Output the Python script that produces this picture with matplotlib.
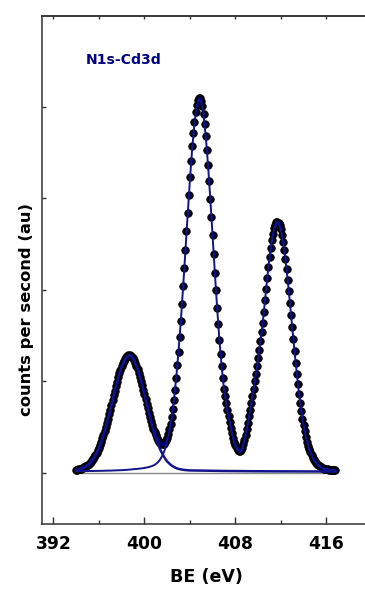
import numpy as np
import matplotlib
matplotlib.use("Agg")
import matplotlib.pyplot as plt
from matplotlib.ticker import MultipleLocator, NullFormatter

plt.rcParams["font.family"] = ["DejaVu Sans"]
plt.rcParams["font.weight"] = "bold"

# ---------------- data ----------------
# measured points, binding energy 394.0 ... 416.8 eV in 0.1 eV steps
be_start = 394.0
be_step = 0.1
counts = [
    0.036, 0.038, 0.041, 0.045, 0.048, 0.053, 0.058, 0.064, 0.071, 0.079,   # 394
    0.088, 0.099, 0.111, 0.125, 0.140, 0.158, 0.176, 0.199, 0.222, 0.248,   # 395
    0.277, 0.307, 0.342, 0.378, 0.417, 0.458, 0.501, 0.547, 0.593, 0.642,   # 396
    0.692, 0.743, 0.795, 0.847, 0.898, 0.948, 0.997, 1.043, 1.087, 1.127,   # 397
    1.164, 1.196, 1.224, 1.247, 1.265, 1.277, 1.284, 1.284, 1.279, 1.268,   # 398
    1.252, 1.230, 1.203, 1.172, 1.136, 1.096, 1.053, 1.007, 0.959, 0.909,   # 399
    0.859, 0.808, 0.757, 0.706, 0.656, 0.608, 0.563, 0.520, 0.479, 0.443,   # 400
    0.410, 0.382, 0.358, 0.339, 0.326, 0.318, 0.317, 0.321, 0.336, 0.356,   # 401
    0.386, 0.427, 0.478, 0.540, 0.614, 0.701, 0.799, 0.910, 1.036, 1.175,   # 402
    1.326, 1.489, 1.665, 1.848, 2.040, 2.239, 2.439, 2.643, 2.842, 3.038,   # 403
    3.227, 3.402, 3.566, 3.711, 3.837, 3.939, 4.017, 4.069, 4.094, 4.090,   # 404
    4.060, 4.002, 3.918, 3.812, 3.682, 3.532, 3.365, 3.185, 2.995, 2.797,   # 405
    2.594, 2.391, 2.188, 1.994, 1.804, 1.623, 1.453, 1.303, 1.163, 1.033,   # 406
    0.922, 0.842, 0.765, 0.692, 0.622, 0.556, 0.494, 0.437, 0.385, 0.343,   # 407
    0.305, 0.274, 0.252, 0.240, 0.238, 0.250, 0.275, 0.312, 0.360, 0.418,   # 408
    0.482, 0.550, 0.620, 0.692, 0.766, 0.842, 0.920, 1.000, 1.083, 1.168,   # 409
    1.255, 1.345, 1.440, 1.538, 1.640, 1.754, 1.884, 2.010, 2.134, 2.251,   # 410
    2.358, 2.456, 2.542, 2.614, 2.671, 2.712, 2.736, 2.743, 2.732, 2.705,   # 411
    2.660, 2.600, 2.525, 2.437, 2.337, 2.227, 2.108, 1.983, 1.854, 1.722,   # 412
    1.590, 1.460, 1.330, 1.206, 1.086, 0.972, 0.865, 0.766, 0.672, 0.587,   # 413
    0.521, 0.454, 0.395, 0.343, 0.297, 0.259, 0.224, 0.195, 0.167, 0.145,   # 414
    0.126, 0.109, 0.095, 0.083, 0.073, 0.065, 0.058, 0.053, 0.048, 0.044,   # 415
    0.041, 0.039, 0.037, 0.035, 0.034, 0.033, 0.032, 0.032, 0.032,          # 416
]

# fitted N1s component (0.2 eV grid 394.0-404.0, then flat tail points)
fit_step = 0.2
n1s_fit = [
    0.036, 0.041, 0.048, 0.058, 0.071, 0.088, 0.111, 0.140, 0.176, 0.222,
    0.277, 0.342, 0.417, 0.501, 0.593, 0.692, 0.795, 0.898, 0.997, 1.087,
    1.164, 1.224, 1.265, 1.284, 1.279, 1.252, 1.203, 1.136, 1.053, 0.959,
    0.858, 0.754, 0.651, 0.554, 0.464, 0.384, 0.314, 0.254, 0.204, 0.162,
    0.127, 0.102, 0.081, 0.066, 0.053, 0.045, 0.040, 0.035, 0.032, 0.030,
    0.028,
]
n1s_tail_be = [405.0, 406.0, 407.0, 408.0, 410.0, 412.0, 414.0, 416.8]
n1s_tail = [0.026, 0.024, 0.022, 0.021, 0.019, 0.018, 0.017, 0.016]

# fitted Cd3d component (0.2 eV grid 394.0-416.8)
cd_fit = [
    0.020, 0.020, 0.020, 0.021, 0.021, 0.021, 0.022, 0.022, 0.022, 0.023,
    0.023, 0.024, 0.024, 0.025, 0.026, 0.026, 0.027, 0.028, 0.029, 0.030,
    0.031, 0.032, 0.034, 0.036, 0.038, 0.041, 0.043, 0.045, 0.048, 0.051,
    0.055, 0.060, 0.065, 0.073, 0.082, 0.097, 0.119, 0.150, 0.194, 0.256,
    0.341, 0.456, 0.608, 0.801, 1.040, 1.325, 1.655, 2.021, 2.411, 2.808,
    3.193, 3.536, 3.814, 4.002,
    4.083, 4.050, 3.908, 3.672, 3.356, 2.986, 2.585, 2.179, 1.795, 1.445,
    1.155, 0.915, 0.758, 0.615, 0.487, 0.378, 0.298, 0.245, 0.231, 0.268,
    0.353, 0.475, 0.613, 0.759, 0.913, 1.076, 1.248, 1.433, 1.633, 1.877,
    2.129, 2.355, 2.539, 2.668, 2.733, 2.729, 2.657, 2.522, 2.334, 2.105,
    1.852, 1.588, 1.328, 1.084, 0.863, 0.670, 0.519, 0.393, 0.295, 0.222,
    0.166, 0.125, 0.094, 0.072, 0.057, 0.047, 0.040, 0.036, 0.033, 0.031,
    0.031,
]

# background line
bg_be = [394.0, 416.8]
bg_val = [0.0, 0.0]

x_ticks = [392, 400, 408, 416]
y_ticks = [0, 1, 2, 3, 4]

# ---------------- derived x grids ----------------
be = np.round(be_start + be_step * np.arange(len(counts)), 2)
n1s_be = np.concatenate([np.round(be_start + fit_step * np.arange(len(n1s_fit)), 2), n1s_tail_be])
n1s_val = list(n1s_fit) + list(n1s_tail)
cd_be = np.round(be_start + fit_step * np.arange(len(cd_fit)), 2)

# ---------------- figure ----------------
W, H = 365, 592
fig = plt.figure(figsize=(W / 100, H / 100), dpi=100)
px_per_ev = 11.375
ax_left, ax_top, ax_bottom = 42, 16, 524
xmin, xmax = 391, 420
ax = fig.add_axes([ax_left / W, 1 - ax_bottom / H,
                   (xmax - xmin) * px_per_ev / W, (ax_bottom - ax_top) / H])
ax.set_xlim(xmin, xmax)
ax.set_ylim(-0.557, 4.99)

navy_fill = "#000080"
line_col = "#13138a"

ax.plot(bg_be, bg_val, color="#8a8a8a", lw=1.0, zorder=1)
# black discs with small navy centres
ax.plot(be, counts, ls="none", marker="o", ms=5.4, mfc="black", mec="black",
        mew=0.6, zorder=2)
ax.plot(be, counts, ls="none", marker="o", ms=2.2, mfc=navy_fill, mec=navy_fill,
        mew=0.0, zorder=2.1)
ax.plot(n1s_be, n1s_val, color=line_col, lw=1.8, zorder=3, solid_joinstyle="round")
ax.plot(cd_be, cd_fit, color=line_col, lw=1.4, zorder=3, solid_joinstyle="round")

spine_col = "#333333"
for s in ["left", "bottom", "top"]:
    ax.spines[s].set_linewidth(1.1)
    ax.spines[s].set_color(spine_col)
ax.spines["right"].set_visible(False)

ax.set_xticks(x_ticks)
ax.xaxis.set_minor_locator(MultipleLocator(4))
ax.tick_params(axis="x", which="major", direction="in", length=5, width=1.0,
               color=spine_col, pad=8, labelsize=12.3, top=False)
ax.tick_params(axis="x", which="minor", direction="in", length=3, width=1.0,
               color=spine_col, top=False)
ax.set_yticks(y_ticks)
ax.yaxis.set_major_formatter(NullFormatter())
ax.tick_params(axis="y", which="major", direction="in", length=3, width=1.0,
               color=spine_col, right=False)
for lab in ax.get_xticklabels():
    lab.set_fontweight("bold")

sec = ax.secondary_xaxis("top")
sec.set_xticks([392, 396, 400, 404, 408, 412, 416])
sec.xaxis.set_major_formatter(NullFormatter())
sec.tick_params(axis="x", direction="in", length=2.5, width=1.0, color=spine_col)
sec.spines["top"].set_linewidth(1.1)
sec.spines["top"].set_color(spine_col)

fig.text(206.7 / W, 1 - 577 / H, "BE (eV)", ha="center", va="center",
         fontsize=12.6, fontweight="bold")
fig.text(26.5 / W, 1 - 310 / H, "counts per second (au)", rotation=90,
         ha="center", va="center", fontsize=11.8, fontweight="bold")
fig.text(86 / W, 1 - 60 / H, "N1s-Cd3d", ha="left", va="center",
         fontsize=10.1, fontweight="bold", color=navy_fill)

fig.savefig("out.png", dpi=100)
